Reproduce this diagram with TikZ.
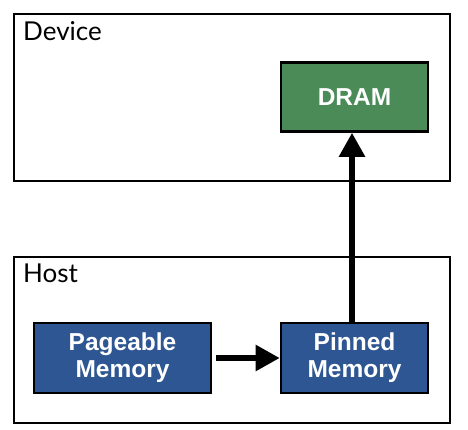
\documentclass[tikz,border=0pt]{standalone}
\usepackage{fontspec}
\setmainfont{Lato}
\newfontfamily\boxfont{Liberation Sans}
\usetikzlibrary{arrows.meta}
\definecolor{dramgreen}{RGB}{74,139,87}
\definecolor{memblue}{RGB}{46,86,146}
\tikzset{
  frame/.style={draw=black, line width=2.6pt},
  membox/.style={draw=black, line width=2.6pt, text=white, font=\boxfont\bfseries\fontsize{24.5}{27}\selectfont, align=center, inner sep=0pt},
  bigarrow/.style={line width=5.5pt, -{Triangle[length=24pt,width=25pt]}}
}
\begin{document}
\begin{tikzpicture}[x=1pt,y=-1pt]
\useasboundingbox (0,0) rectangle (468,430);
\draw[frame] (14,14) rectangle (450,181);
\node[anchor=north west, inner sep=0pt, font=\fontsize{26}{28}\selectfont] (devlabel) at (23,21) {Device};
\draw[frame] (14,257) rectangle (450,423);
\node[anchor=north west, inner sep=0pt, font=\fontsize{26}{28}\selectfont] (hostlabel) at (23,264) {Host};
\node[membox, fill=dramgreen, minimum width=147pt, minimum height=69pt] (dram) at (354.5,97) {DRAM};
\node[membox, fill=memblue, minimum width=177pt, minimum height=70pt] (page) at (122.5,358) {Pageable\\Memory};
\node[membox, fill=memblue, minimum width=147pt, minimum height=70pt] (pin) at (354.5,358) {Pinned\\Memory};
\draw[bigarrow] (page.east) ++(4,0) -- (pin.west);
\draw[bigarrow] (pin.north -| 352,0) -- (dram.south -| 352,0);
\end{tikzpicture}
\end{document}
